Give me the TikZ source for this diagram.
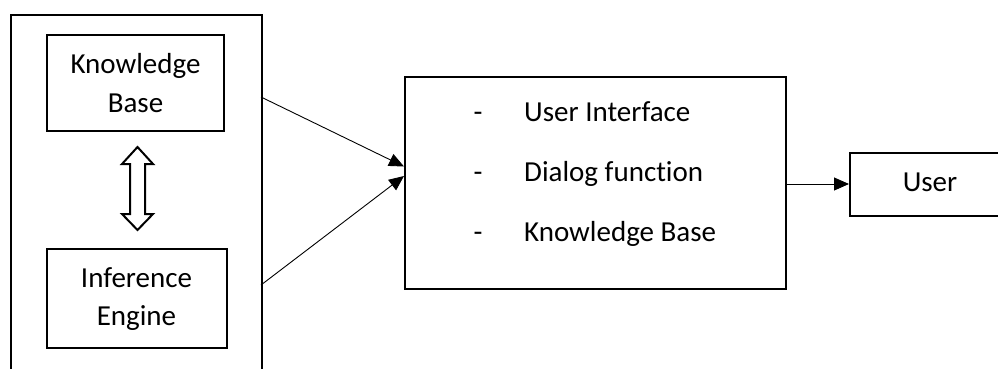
\documentclass[tikz,border=0pt]{standalone}
\usepackage{fontspec}
\setmainfont[Ligatures=NoCommon]{Carlito}
\usetikzlibrary{arrows.meta}
\tikzset{
  box/.style={draw, line width=2.2pt, inner sep=0pt},
  lbl/.style={font=\fontsize{29}{38.5}\selectfont, inner sep=0pt, anchor=base},
  lblw/.style={lbl, anchor=base west},
  conn/.style={line width=0.9pt, -{Triangle[length=15pt,width=13pt]}},
}
\begin{document}
\begin{tikzpicture}[x=1pt,y=-1pt]
\useasboundingbox[fill=white] (0,0) rectangle (998,368);
\clip (0,0) rectangle (998,368);
% outer container (open at the bottom edge of the picture)
\node[box, minimum width=251pt, minimum height=380pt, anchor=north west] (outer) at (10,14) {};
% inner boxes
\node[box, minimum width=177pt, minimum height=96pt] (kb) at (135.5,83) {};
\node[lbl] (kb1) at (135.5,73) {Knowledge};
\node[lbl] (kb2) at (135.5,112) {Base};
\node[box, minimum width=180pt, minimum height=99pt] (ie) at (137,298.5) {};
\node[lbl] (ie1) at (136.5,287) {Inference};
\node[lbl] (ie2) at (136.5,325.5) {Engine};
% middle box
\node[box, minimum width=381pt, minimum height=212pt] (mid) at (595.5,183) {};
\node[lbl] (d1) at (478,121) {-};
\node[lblw] (t1) at (524,121) {User Interface};
\node[lbl] (d2) at (478,181.5) {-};
\node[lblw] (t2) at (524,181.5) {Dialog function};
\node[lbl] (d3) at (478,241.5) {-};
\node[lblw] (t3) at (524,241.5) {Knowledge Base};
% user box
\node[box, minimum width=240pt, minimum height=63pt, anchor=west] (user) at (849,184.5) {};
\node[lbl] (ut) at (930,191) {User};
% double arrow between KB and IE
\draw[line width=2pt, line join=miter]
  (137.5,147) -- (153,164) -- (145,164) -- (145,214) -- (153,214) -- (137.5,230)
  -- (122,214) -- (130,214) -- (130,164) -- (122,164) -- cycle;
% connectors
\coordinate (s1) at (261,97);
\coordinate (s2) at (261,285);
\coordinate (e1) at (404,166.5);
\coordinate (e2) at (404,176);
\draw[conn] (s1) -- (e1);
\draw[conn] (s2) -- (e2);
\draw[conn] (mid.east |- 0,184) -- (user.west |- 0,184);
\end{tikzpicture}
\end{document}
